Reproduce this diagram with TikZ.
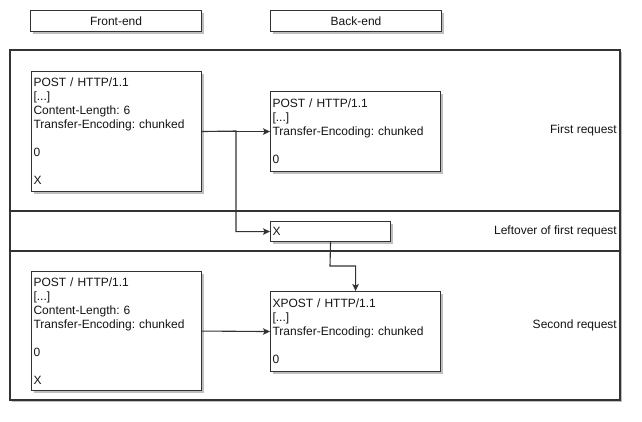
\documentclass[tikz,border=0pt]{standalone}
\usepackage{fontspec}
\setmainfont{Liberation Sans}
\usetikzlibrary{arrows.meta,shadows}
\definecolor{ln}{HTML}{333333}
\definecolor{tx}{HTML}{141414}
\begin{document}
\begin{tikzpicture}[x=1pt,y=-1pt,
  font=\fontsize{12}{14}\selectfont\frenchspacing,
  shd/.style={drop shadow={shadow xshift=2pt,shadow yshift=-2pt,fill=black,opacity=0.25}},
  wbox/.style={draw=ln,line width=1.1pt,fill=white,shd,text=tx,inner xsep=2pt,inner ysep=0pt,
    align=left,text width=166pt,minimum width=170pt,anchor=north west},
  sbox/.style={draw=ln,line width=1.1pt,fill=white,shd,text=tx,inner xsep=2pt,inner ysep=0pt,
    align=left,text width=116pt,minimum width=120pt,minimum height=20pt,anchor=north west},
  hdr/.style={draw=ln,line width=1.1pt,fill=white,shd,text=tx,inner sep=0pt,
    minimum width=171pt,minimum height=21pt,anchor=north west},
  lane/.style={text=tx,anchor=east,inner sep=0pt},
  conn/.style={draw=ln,line width=1.1pt,-{Stealth[length=7pt,width=6.5pt,inset=1.5pt]}},
  sep/.style={draw=ln,line width=1.2pt}
]
\useasboundingbox (0,0) rectangle (642,422);
\fill[white] (0,0) rectangle (642,422);

% headers
\node[hdr] (fe) at (30,10) {Front-end};
\node[hdr] (be) at (270,10) {Back-end};

% outer frame with lanes
\draw[draw=ln,line width=1.2pt,fill=white,shd] (10,50) rectangle (620,400);
\draw[sep] (10,211) -- (620,211);
\draw[sep] (10,251) -- (620,251);

\node[lane] (l1) at (617,130.5) {First request};
\node[lane] (l2) at (617,231) {Leftover of first request};
\node[lane] (l3) at (617,325.5) {Second request};

% request boxes
\node[wbox,minimum height=120pt] (f1) at (31,71)
  {POST / HTTP/1.1\\{}[...]\\ Content-Length: 6\\ Transfer-Encoding: chunked\\[14pt] 0\\[14pt] X};
\node[wbox,minimum height=80pt] (b1) at (270,91)
  {POST / HTTP/1.1\\{}[...]\\ Transfer-Encoding: chunked\\[14pt] 0};
\node[sbox] (x) at (270,221) {X};
\node[wbox,minimum height=119pt] (f2) at (31,271)
  {POST / HTTP/1.1\\{}[...]\\ Content-Length: 6\\ Transfer-Encoding: chunked\\[14pt] 0\\[14pt] X};
\node[wbox,minimum height=80pt] (b2) at (270,291)
  {XPOST / HTTP/1.1\\{}[...]\\ Transfer-Encoding: chunked\\[14pt] 0};

% connectors
\coordinate (j) at (236,131);
\coordinate (k) at (330,266);
\draw[conn] (f1.east) -- (b1.west);
\draw[conn] (f1.east) -- (j) |- (x.west);
\draw[conn] (x.south) -- (k) -| (b2.north);
\draw[conn] (f2.east) -- (b2.west);
\end{tikzpicture}
\end{document}
